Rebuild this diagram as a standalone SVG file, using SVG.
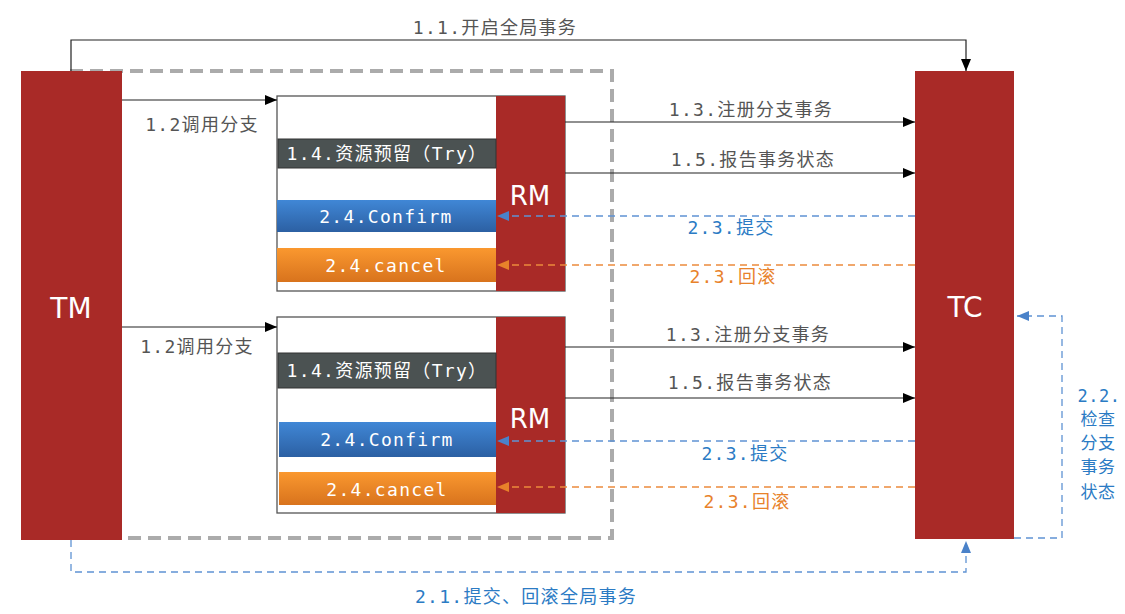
<svg xmlns="http://www.w3.org/2000/svg" width="1125" height="614" viewBox="0 0 1125 614">
<style>
.red{fill:#a92a27}
.lbl{font-family:"DejaVu Sans Mono","Noto Sans CJK SC",monospace;font-size:18px;letter-spacing:1.3px;text-anchor:middle}
.g{fill:#555}
.b{fill:#2b7bc4}
.o{fill:#e8822a}
.w{fill:#fff}
.big{font-family:"DejaVu Sans","Noto Sans CJK SC",sans-serif;fill:#fff;text-anchor:middle}
.sol{stroke:#222;stroke-width:1.2;fill:none}
.bd{stroke:#5f93d3;stroke-width:1.3;fill:none;stroke-dasharray:7 5}
.od{stroke:#ec8a3c;stroke-width:1.3;fill:none;stroke-dasharray:7 5}
</style>
<defs>
<marker id="ak" markerWidth="12" markerHeight="10" refX="12" refY="5" orient="auto" markerUnits="userSpaceOnUse"><path d="M0,0 L12,5 L0,10 z" fill="#000"/></marker>
<marker id="ab" markerWidth="12" markerHeight="10" refX="12" refY="5" orient="auto" markerUnits="userSpaceOnUse"><path d="M0,0 L12,5 L0,10 z" fill="#4a82c9"/></marker>
<marker id="ao" markerWidth="12" markerHeight="10" refX="12" refY="5" orient="auto" markerUnits="userSpaceOnUse"><path d="M0,0 L12,5 L0,10 z" fill="#e8822a"/></marker>
<linearGradient id="gb" x1="0" y1="0" x2="0" y2="1"><stop offset="0" stop-color="#4087d6"/><stop offset="1" stop-color="#2c60a3"/></linearGradient>
<linearGradient id="go" x1="0" y1="0" x2="0" y2="1"><stop offset="0" stop-color="#fa982f"/><stop offset="1" stop-color="#d8731d"/></linearGradient>
</defs>
<rect width="1125" height="614" fill="#fff"/>
<rect x="70" y="71" width="542" height="467" fill="none" stroke="#ababab" stroke-width="4" stroke-dasharray="13 7"/>

<g id="TM">
<rect class="red" x="21" y="71" width="101" height="469"/>
<text class="big" x="71" y="318" font-size="28">TM</text>
</g>
<g id="TC">
<rect class="red" x="915" y="71" width="99" height="468"/>
<text class="big" x="965" y="317" font-size="28">TC</text>
</g>

<g id="branch1">
<rect x="277" y="96" width="288" height="195" fill="#fff" stroke="#555" stroke-width="1.3"/>
<rect class="red" x="496" y="96" width="69" height="195"/>
<text class="big" x="530" y="205" font-size="26">RM</text>
<rect x="278" y="139" width="218" height="29" fill="#4b5252" stroke="#333" stroke-width="1"/>
<text class="lbl w" x="387" y="160">1.4.资源预留（Try）</text>
<rect x="277" y="200" width="219" height="32" fill="url(#gb)"/>
<text class="lbl w" x="386" y="223">2.4.Confirm</text>
<rect x="277" y="248" width="219" height="34" fill="url(#go)"/>
<text class="lbl w" x="386" y="272">2.4.cancel</text>
</g>

<g id="branch2">
<rect x="277" y="317" width="288" height="196" fill="#fff" stroke="#555" stroke-width="1.3"/>
<rect class="red" x="496" y="317" width="69" height="196"/>
<text class="big" x="530" y="428" font-size="26">RM</text>
<rect x="278" y="353" width="218" height="35" fill="#4b5252" stroke="#333" stroke-width="1"/>
<text class="lbl w" x="387" y="377">1.4.资源预留（Try）</text>
<rect x="279" y="422" width="217" height="35" fill="url(#gb)"/>
<text class="lbl w" x="387" y="446">2.4.Confirm</text>
<rect x="279" y="472" width="217" height="33" fill="url(#go)"/>
<text class="lbl w" x="387" y="496">2.4.cancel</text>
</g>

<g id="connectors">
<path class="sol" d="M71,71 V40 H966 V71" marker-end="url(#ak)"/>
<text class="lbl g" x="495" y="34">1.1.开启全局事务</text>
<path class="sol" d="M122,100 H277" marker-end="url(#ak)"/>
<text class="lbl g" x="202" y="131">1.2调用分支</text>
<path class="sol" d="M122,327 H277" marker-end="url(#ak)"/>
<text class="lbl g" x="197" y="353">1.2调用分支</text>
<path class="sol" d="M565,122 H915" marker-end="url(#ak)"/>
<text class="lbl g" x="751" y="116">1.3.注册分支事务</text>
<path class="sol" d="M565,173 H915" marker-end="url(#ak)"/>
<text class="lbl g" x="753" y="166">1.5.报告事务状态</text>
<path class="bd" d="M915,216 H497" marker-end="url(#ab)"/>
<text class="lbl b" x="731" y="234">2.3.提交</text>
<path class="od" d="M915,265 H497" marker-end="url(#ao)"/>
<text class="lbl o" x="733" y="283">2.3.回滚</text>
<path class="sol" d="M565,347 H915" marker-end="url(#ak)"/>
<text class="lbl g" x="748" y="341">1.3.注册分支事务</text>
<path class="sol" d="M565,398 H915" marker-end="url(#ak)"/>
<text class="lbl g" x="750" y="389">1.5.报告事务状态</text>
<path class="bd" d="M915,441 H497" marker-end="url(#ab)"/>
<text class="lbl b" x="745" y="460">2.3.提交</text>
<path class="od" d="M915,487 H497" marker-end="url(#ao)"/>
<text class="lbl o" x="747" y="508">2.3.回滚</text>
<path class="bd" d="M1014,538 H1062 V316 H1017" marker-end="url(#ab)"/>
<g class="lbl b" style="font-size:17px;letter-spacing:0.5px">
<text x="1099" y="402">2.2.</text>
<text x="1098" y="425">检查</text>
<text x="1098" y="449">分支</text>
<text x="1098" y="473">事务</text>
<text x="1098" y="498">状态</text>
</g>
<path class="bd" d="M71,540 V572 H966 V541" marker-end="url(#ab)"/>
<text class="lbl b" x="526" y="603">2.1.提交、回滚全局事务</text>
</g>
</svg>
